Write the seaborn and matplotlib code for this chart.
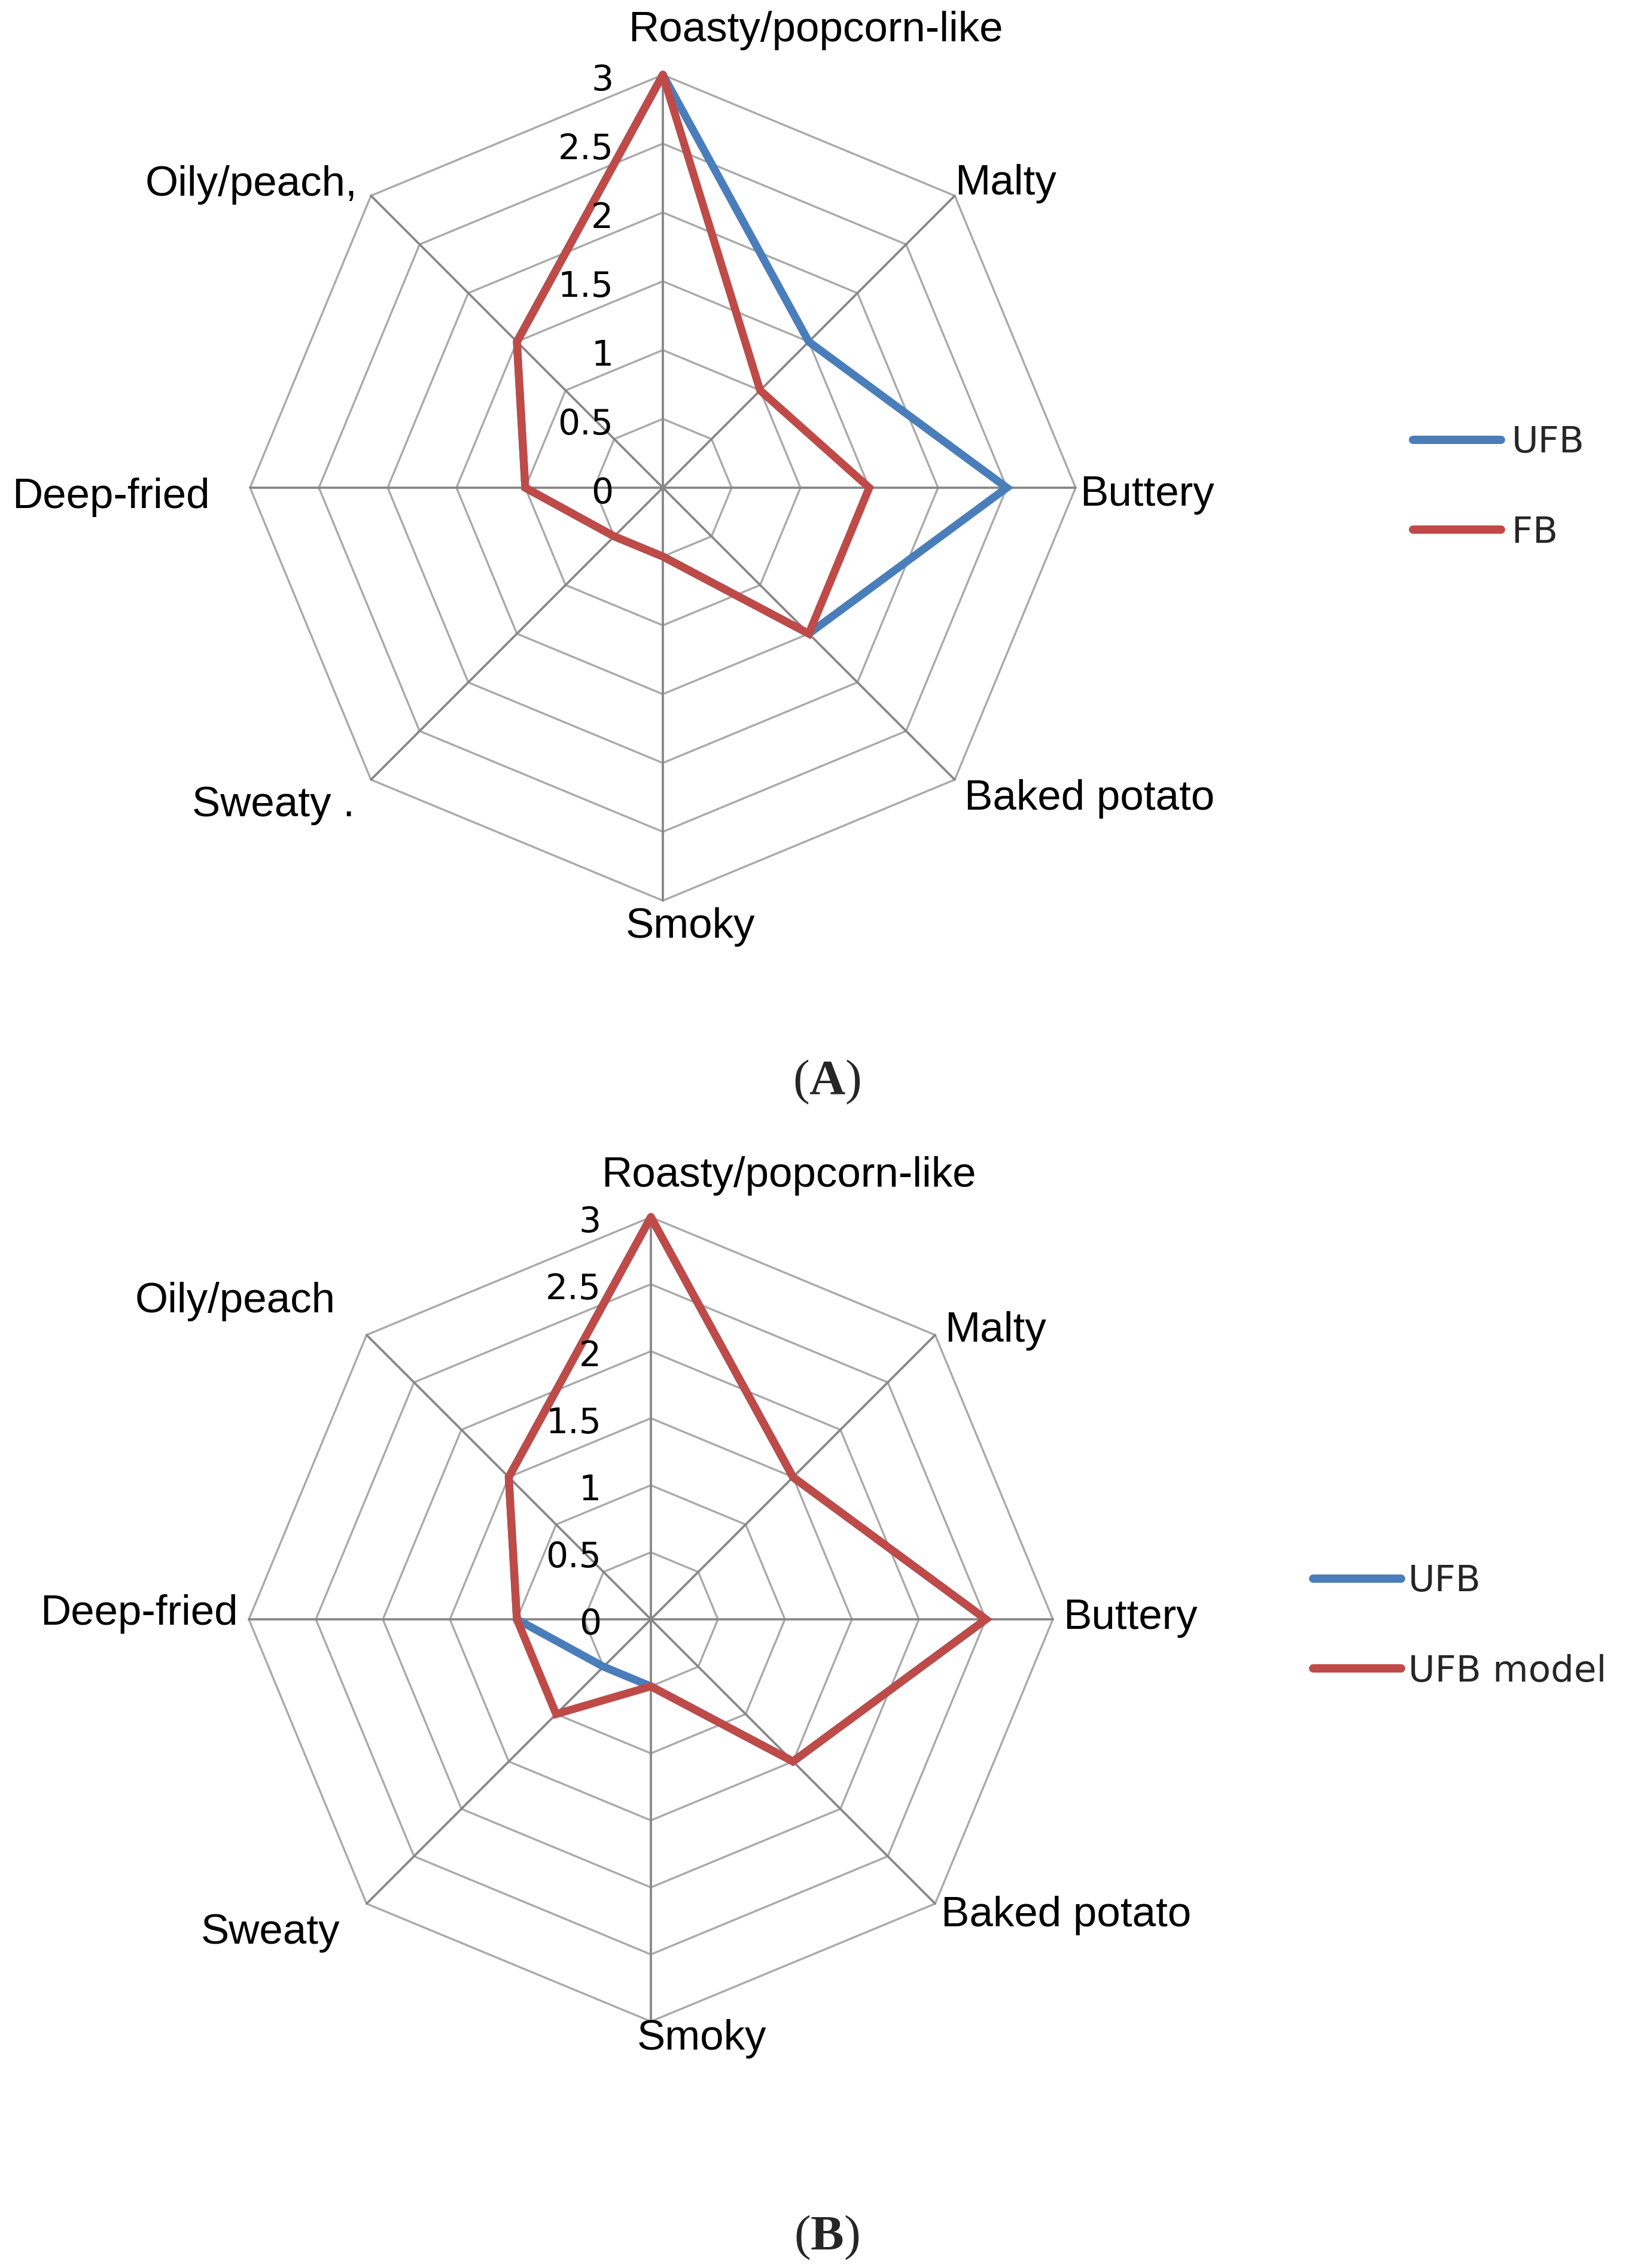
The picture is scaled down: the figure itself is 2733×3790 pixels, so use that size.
import numpy as np
import pandas as pd
import matplotlib
matplotlib.use('Agg')
import matplotlib.pyplot as plt
import seaborn as sns

# Data (clockwise from the top)
attributes_a = ['Roasty/popcorn-like', 'Malty', 'Buttery', 'Baked potato',
                'Smoky', 'Sweaty .', 'Deep-fried', 'Oily/peach,']
attributes_b = ['Roasty/popcorn-like', 'Malty', 'Buttery', 'Baked potato',
                'Smoky', 'Sweaty', 'Deep-fried', 'Oily/peach']
ufb = [3.0, 1.5, 2.5, 1.5, 0.5, 0.5, 1.0, 1.5]
fb = [3.0, 1.0, 1.5, 1.5, 0.5, 0.5, 1.0, 1.5]
ufb_model = [3.0, 1.5, 2.5, 1.5, 0.5, 1.0, 1.0, 1.5]
ring_values = [0, 0.5, 1, 1.5, 2, 2.5, 3]
ring_labels = ['0', '0.5', '1', '1.5', '2', '2.5', '3']

BLUE = '#4a7ebb'
RED = '#be4b48'

W, H = 2733, 3790
sns.set_theme(style='white')
plt.rcParams['font.family'] = ['Liberation Sans', 'DejaVu Sans']
plt.rcParams['lines.solid_joinstyle'] = 'miter'
plt.rcParams['mathtext.fontset'] = 'custom'
plt.rcParams['mathtext.rm'] = 'Liberation Serif'
plt.rcParams['mathtext.bf'] = 'Liberation Serif:bold'

fig = plt.figure(figsize=(W / 100, H / 100), dpi=100)
fig.patch.set_facecolor('white')

angles = np.arange(8) * 2 * np.pi / 8


def axes_rect(cx, cy, ppu, half=4.0):
    w = 2 * half * ppu
    return [(cx - w / 2) / W, (H - cy - w / 2) / H, w / W, w / H]


def radar(ax, series, names, label_pos, colors, tick_x):
    closed = np.append(angles, angles[0])
    # octagon rings and spokes
    for r in ring_values[1:]:
        ax.plot(r * np.sin(closed), r * np.cos(closed), color='#a9a9a9', lw=2.4, zorder=1)
    for a in angles:
        ax.plot([0, 3 * np.sin(a)], [0, 3 * np.cos(a)], color='#878787', lw=2.7, zorder=1)

    rows = []
    for name, vals in series.items():
        v = list(vals) + [vals[0]]
        for i, (val, a) in enumerate(zip(v, closed)):
            rows.append({'series': name, 'order': i,
                         'x': val * np.sin(a), 'y': val * np.cos(a)})
    df = pd.DataFrame(rows)
    sns.lineplot(data=df, x='x', y='y', hue='series', sort=False, estimator=None,
                 palette=colors, linewidth=9.5, ax=ax, zorder=3)

    for lab, (x, y) in zip(names, label_pos):
        ax.text(x, y - 0.05, lab, ha='center', va='center', fontsize=51, color='black',
                family=['Liberation Sans', 'DejaVu Sans'])
    for r, t in zip(ring_values, ring_labels):
        ax.text(tick_x, r - 0.04, t, ha='right', va='center', fontsize=42, color='black',
                family=['DejaVu Sans'])

    ax.set_xlim(-4, 4)
    ax.set_ylim(-4, 4)
    ax.set_aspect('equal')
    ax.axis('off')
    handles, labels = ax.get_legend_handles_labels()
    ax.get_legend().remove()
    return handles, labels


# Panel A
ax_a = fig.add_axes(axes_rect(1108, 815, 230))
pos_a = [(1.11, 3.37), (2.49, 2.26), (3.52, 0.0), (3.10, -2.21),
         (0.20, -3.14), (-2.83, -2.26), (-4.01, -0.02), (-2.99, 2.25)]
h, l = radar(ax_a, {'UFB': ufb, 'FB': fb}, attributes_a, pos_a,
             {'UFB': BLUE, 'FB': RED}, -0.36)
leg = fig.legend(h, l, loc='center left', bbox_to_anchor=(2362 / W, 1 - 815 / H),
                 frameon=False, handlelength=2.4, handletextpad=0.3, labelspacing=1.5,
                 borderpad=0, borderaxespad=0, prop={'family': 'DejaVu Sans', 'size': 44})
for line in leg.get_lines():
    line.set_linewidth(10)

# Panel B
ax_b = fig.add_axes(axes_rect(1088, 2706, 224))
pos_b = [(1.03, 3.36), (2.57, 2.20), (3.58, 0.06), (3.10, -2.16),
         (0.38, -3.08), (-2.84, -2.29), (-3.82, 0.09), (-3.10, 2.42)]
h, l = radar(ax_b, {'UFB': ufb, 'UFB model': ufb_model}, attributes_b, pos_b,
             {'UFB': BLUE, 'UFB model': RED}, -0.37)
leg = fig.legend(h, l, loc='center left', bbox_to_anchor=(2195 / W, 1 - 2718 / H),
                 frameon=False, handlelength=2.4, handletextpad=0.2, labelspacing=1.5,
                 borderpad=0, borderaxespad=0, prop={'family': 'DejaVu Sans', 'size': 44})
for line in leg.get_lines():
    line.set_linewidth(10)

# captions
fig.text(1382 / W, 1 - 1808 / H, r'($\mathbf{A}$)', ha='center', va='center',
         fontsize=60, family='Liberation Serif')
fig.text(1382 / W, 1 - 3739 / H, r'($\mathbf{B}$)', ha='center', va='center',
         fontsize=60, family='Liberation Serif')

fig.savefig('out.png', dpi=100, facecolor='white')
